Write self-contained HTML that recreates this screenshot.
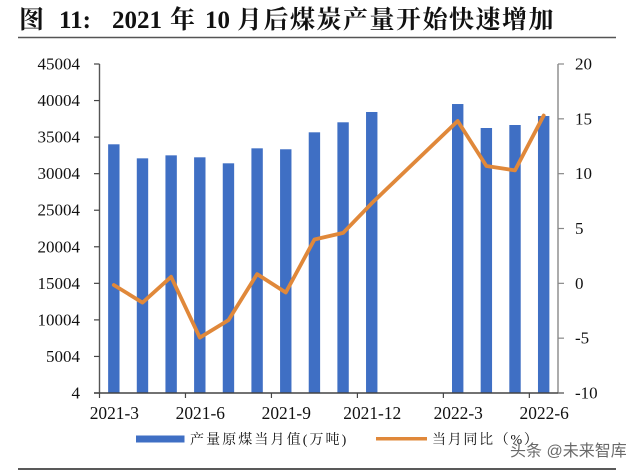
<!DOCTYPE html>
<html>
<head>
<meta charset="utf-8">
<style>
html,body{margin:0;padding:0;background:#fff;}
svg{display:block;}
text{font-family:"Liberation Serif","Noto Serif CJK SC",serif;fill:#111;}
</style>
</head>
<body>
<svg id="chart" width="640" height="471" viewBox="0 0 640 471" xmlns="http://www.w3.org/2000/svg">
  <rect x="0" y="0" width="640" height="471" fill="#ffffff"/>
  <text y="28" font-size="25" font-weight="700"><tspan x="19">图</tspan><tspan x="59">11:</tspan><tspan x="112">2021</tspan><tspan x="170">年</tspan><tspan x="205">10</tspan><tspan x="237" style="letter-spacing:1.5px">月后煤炭产量开始快速增加</tspan></text>
  <line x1="18" y1="37.5" x2="616" y2="37.5" stroke="#555" stroke-width="1.5"/>
  <line x1="18" y1="469" x2="616" y2="469" stroke="#222" stroke-width="1.5"/>
  <g id="bars"></g>
  <g id="axes"></g>
  <polyline id="yoy-line" fill="none" stroke="#e0883a" stroke-width="3.8" stroke-linejoin="round" stroke-linecap="round"/>
  <rect x="136" y="435.5" width="48.5" height="7" fill="#3f6fc4"/>
  <text x="190" y="444" font-size="14" style="letter-spacing:2.1px">产量原煤当月值(万吨)</text>
  <rect x="376" y="437" width="51" height="3.5" fill="#e0883a"/>
  <text x="432" y="444" font-size="14" style="letter-spacing:1.7px">当月同比（%）</text>
  <text x="510" y="456" font-size="16" fill="#333" style="font-family:'Liberation Sans','Noto Sans CJK SC',sans-serif;fill:#444;opacity:.8">头条 @未来智库</text>
</svg>
<script>
const categories = ["2021-3","2021-4","2021-5","2021-6","2021-7","2021-8","2021-9","2021-10","2021-11","2021-12","2022-1","2022-2","2022-3","2022-4","2022-5","2022-6"];
const outputValues = [34020,32100,32510,32240,31420,33470,33340,35660,37030,38440,null,null,39530,36250,36660,37890];
const yoyValues = [-0.15,-1.76,0.6,-4.95,-3.35,0.84,-0.84,4.0,4.6,7.3,null,null,14.8,10.7,10.3,15.3];
const leftTicks = [4,5004,10004,15004,20004,25004,30004,35004,40004,45004];
const rightTicks = [-10,-5,0,5,10,15,20];
const xTickLabels = ["2021-3","2021-6","2021-9","2021-12","2022-3","2022-6"];

const NS = "http://www.w3.org/2000/svg";
const plotLeft = 99.5, plotRight = 558, plotTop = 64, plotBottom = 393;
const band = (plotRight - plotLeft) / categories.length;
function xCenter(i){ return plotLeft + band * (i + 0.5); }
function yLeft(v){ return plotBottom - (v - 4) / 45000 * (plotBottom - plotTop); }
function yRight(v){ return plotBottom - (v + 10) / 30 * (plotBottom - plotTop); }
function make(tag, attrs, parent){
  const el = document.createElementNS(NS, tag);
  for (const k in attrs) el.setAttribute(k, attrs[k]);
  parent.appendChild(el);
  return el;
}
const barsG = document.getElementById("bars");
const axesG = document.getElementById("axes");

outputValues.forEach(function(v, i){
  if (v === null) return;
  const r = make("rect", {x: xCenter(i) - 5.7, y: yLeft(v), width: 11.4, height: plotBottom - yLeft(v), fill: "#3f6fc4"}, barsG);
  
  
});

const leftAxis = make("line", {x1: plotLeft, y1: plotTop, x2: plotLeft, y2: plotBottom, stroke: "#555", "stroke-width": 1.4}, axesG);


const rightAxis = make("line", {x1: plotRight, y1: plotTop, x2: plotRight, y2: plotBottom, stroke: "#888", "stroke-width": 1.4}, axesG);


const xAxis = make("line", {x1: 94, y1: plotBottom, x2: 564, y2: plotBottom, stroke: "#444", "stroke-width": 1.4}, axesG);



leftTicks.forEach(function(v){
  const y = yLeft(v);
  const t = make("line", {x1: 94, y1: y, x2: plotLeft, y2: y, stroke: "#444", "stroke-width": 1.2}, axesG);
  
  
  const l = make("text", {x: 80, y: y + 5.5, "font-size": 17, "text-anchor": "end"}, axesG);
  l.textContent = v;
  
  
});

rightTicks.forEach(function(v){
  const y = yRight(v);
  const t = make("line", {x1: plotRight, y1: y, x2: plotRight + 6, y2: y, stroke: "#888", "stroke-width": 1.2}, axesG);
  
  
  const l = make("text", {x: 575, y: y + 5.5, "font-size": 17}, axesG);
  l.textContent = v;
  
  
});

for (let i = 0; i < categories.length; i += 3) {
  const tx = plotLeft + band * i;
  const t = make("line", {x1: tx, y1: plotBottom, x2: tx, y2: plotBottom + 5, stroke: "#444", "stroke-width": 1.2}, axesG);
  
  
}

xTickLabels.forEach(function(lbl){
  const i = categories.indexOf(lbl);
  const l = make("text", {x: xCenter(i) + 0.5, y: 419, "font-size": 17.4, "text-anchor": "middle"}, axesG);
  l.textContent = lbl;
  
  
});

const pts = [];
yoyValues.forEach(function(v, i){
  if (v !== null) pts.push(xCenter(i).toFixed(1) + "," + yRight(v).toFixed(1));
});
document.getElementById("yoy-line").setAttribute("points", pts.join(" "));
</script>
</body>
</html>
